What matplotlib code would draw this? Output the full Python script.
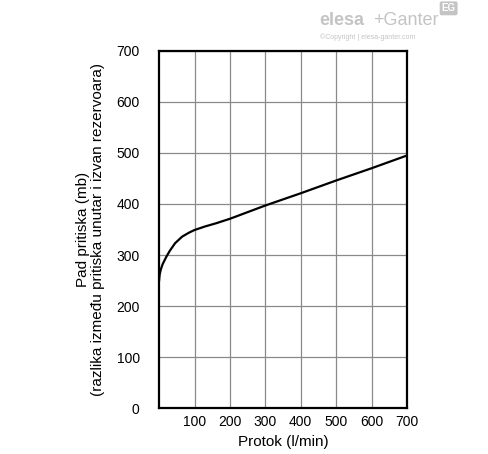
import matplotlib
matplotlib.use('Agg')
import matplotlib.pyplot as plt

plt.rcParams['font.family'] = ['Liberation Sans', 'DejaVu Sans']

# protok (l/min) i pad pritiska (mb), procitano sa slike
protok = [0, 1, 2, 5, 10, 20, 30, 45, 65, 85, 100, 130, 160, 200, 300, 400, 500, 600, 700]
pad = [250, 258, 263, 272, 282, 296, 308, 323, 336, 344, 349, 356, 362, 371, 397, 421, 446, 470, 495]

x_ticks = [100, 200, 300, 400, 500, 600, 700]
y_ticks = [0, 100, 200, 300, 400, 500, 600, 700]

fig = plt.figure(figsize=(4.88, 4.54), dpi=100)
ax = fig.add_axes([0.326, 0.101, 0.508, 0.787])

ax.plot(protok, pad, color='black', lw=1.6, zorder=3)

ax.set_xlim(0, 700)
ax.set_ylim(0, 700)
ax.set_xticks(x_ticks)
ax.set_yticks(y_ticks)
ax.tick_params(length=0, labelsize=10, pad=5)
ax.tick_params(axis='y', pad=14)
ax.grid(True, color='#8a8a8a', lw=0.9)
for s in ax.spines.values():
    s.set_linewidth(1.6)
    s.set_color('black')

ax.set_xlabel('Protok (l/min)', fontsize=11, labelpad=4)
ax.set_ylabel('Pad pritiska (mb)\n(razlika između pritiska unutar i izvan rezervoara)',
              fontsize=11, labelpad=8, linespacing=1.1)

# logo
fig.text(0.655, 0.945, 'elesa', fontsize=13, fontweight='bold', color='#c4c4c4')
fig.text(0.765, 0.945, '+Ganter', fontsize=13, color='#c4c4c4')
fig.text(0.655, 0.915, '©Copyright | elesa-ganter.com', fontsize=5, color='#c4c4c4')
fig.text(0.905, 0.975, 'EG', fontsize=7, color='white', fontweight='bold',
         bbox=dict(boxstyle='round,pad=0.2', fc='#c4c4c4', ec='none'))

plt.savefig('out.png', dpi=100)
